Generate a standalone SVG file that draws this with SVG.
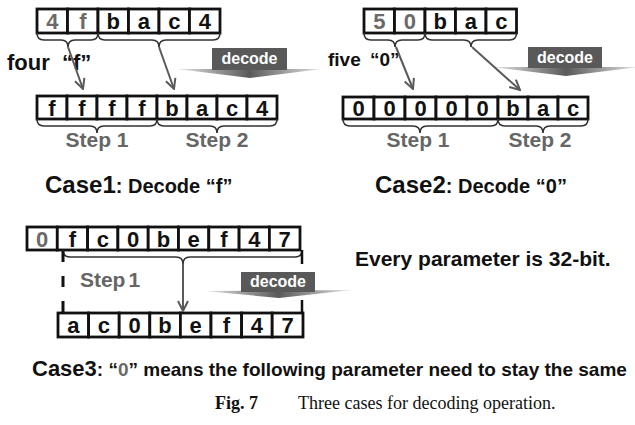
<svg xmlns="http://www.w3.org/2000/svg" width="635" height="425" viewBox="0 0 635 425">
<defs>
<style>
.cell{fill:#fff;stroke:#111;stroke-width:2.8}
.ct{font-family:"Liberation Sans",Arial,sans-serif;font-weight:bold;font-size:22px;text-anchor:middle;fill:#111}
.g{fill:#6a6a6a}
.brace{fill:none;stroke:#333;stroke-width:1.6}
.arr{fill:none;stroke:#5a5a5a;stroke-width:2;marker-end:url(#ah)}
.step{font-family:"Liberation Sans",Arial,sans-serif;font-weight:bold;font-size:21px;fill:#666;text-anchor:middle}
.lbl{font-family:"Liberation Sans",Arial,sans-serif;font-weight:bold;fill:#111}
.dec{font-family:"Liberation Sans",Arial,sans-serif;font-weight:bold;font-size:16px;fill:#fff;text-anchor:middle}
.blk{fill:#595959}
.head{fill:url(#hg)}
</style>
<marker id="ah" viewBox="0 0 12 12" refX="11" refY="6" markerWidth="12" markerHeight="12" markerUnits="userSpaceOnUse" orient="auto">
<path d="M1,1 L11,6 L1,11" fill="none" stroke="#5a5a5a" stroke-width="2"/>
</marker>
<linearGradient id="hg" x1="0" y1="0" x2="1" y2="0">
<stop offset="0" stop-color="#e6e6e6"/>
<stop offset="0.5" stop-color="#5a5a5a"/>
<stop offset="1" stop-color="#e6e6e6"/>
</linearGradient>
</defs>
<rect width="635" height="425" fill="#fff"/>

<!-- Case 1 -->
<g id="case1-top">
<rect class="cell" x="37" y="9" width="30.5" height="24"/>
<rect class="cell" x="67.5" y="9" width="30.5" height="24"/>
<rect class="cell" x="98" y="9" width="30.5" height="24"/>
<rect class="cell" x="128.5" y="9" width="30.5" height="24"/>
<rect class="cell" x="159" y="9" width="30.5" height="24"/>
<rect class="cell" x="189.5" y="9" width="30.5" height="24"/>
<text class="ct g" x="52.3" y="29">4</text>
<text class="ct g" x="82.8" y="29">f</text>
<text class="ct" x="113.3" y="29">b</text>
<text class="ct" x="143.8" y="29">a</text>
<text class="ct" x="174.3" y="29">c</text>
<text class="ct" x="204.8" y="29">4</text>
</g>
<g id="case1-bottom">
<rect class="cell" x="37" y="96" width="30" height="23"/>
<rect class="cell" x="67" y="96" width="30" height="23"/>
<rect class="cell" x="97" y="96" width="30" height="23"/>
<rect class="cell" x="127" y="96" width="30" height="23"/>
<rect class="cell" x="157" y="96" width="30" height="23"/>
<rect class="cell" x="187" y="96" width="30" height="23"/>
<rect class="cell" x="217" y="96" width="30" height="23"/>
<rect class="cell" x="247" y="96" width="30" height="23"/>
<text class="ct" x="52" y="115.5">f</text>
<text class="ct" x="82" y="115.5">f</text>
<text class="ct" x="112" y="115.5">f</text>
<text class="ct" x="142" y="115.5">f</text>
<text class="ct" x="172" y="115.5">b</text>
<text class="ct" x="202" y="115.5">a</text>
<text class="ct" x="232" y="115.5">c</text>
<text class="ct" x="262" y="115.5">4</text>
</g>
<g id="case1-labels">
<text class="lbl" x="7" y="70" font-size="22">four<tspan x="62">“f”</tspan></text>
<text class="step" x="97" y="147">Step 1</text>
<text class="step" x="217" y="147">Step 2</text>
<text class="lbl" x="45" y="193" font-size="24">Case1<tspan font-size="20">: Decode “f”</tspan></text>
</g>
<g id="case1-decode">
<polygon class="head" points="177,69 322,69 250,78"/>
<rect class="blk" x="212" y="48" width="75" height="22"/>
<text class="dec" x="249.5" y="64">decode</text>
</g>

<!-- Case 2 -->
<g id="case2-top">
<rect class="cell" x="364" y="9" width="30.5" height="24"/>
<rect class="cell" x="394.5" y="9" width="30.5" height="24"/>
<rect class="cell" x="425" y="9" width="30.5" height="24"/>
<rect class="cell" x="455.5" y="9" width="30.5" height="24"/>
<rect class="cell" x="486" y="9" width="30.5" height="24"/>
<text class="ct g" x="379.3" y="29">5</text>
<text class="ct g" x="409.8" y="29">0</text>
<text class="ct" x="440.3" y="29">b</text>
<text class="ct" x="470.8" y="29">a</text>
<text class="ct" x="501.3" y="29">c</text>
</g>
<g id="case2-bottom">
<rect class="cell" x="343" y="97" width="31" height="22"/>
<rect class="cell" x="374" y="97" width="31" height="22"/>
<rect class="cell" x="405" y="97" width="31" height="22"/>
<rect class="cell" x="436" y="97" width="31" height="22"/>
<rect class="cell" x="467" y="97" width="31" height="22"/>
<rect class="cell" x="498" y="97" width="30" height="22"/>
<rect class="cell" x="528" y="97" width="30" height="22"/>
<rect class="cell" x="558" y="97" width="30" height="22"/>
<text class="ct" x="358.5" y="116">0</text>
<text class="ct" x="389.5" y="116">0</text>
<text class="ct" x="420.5" y="116">0</text>
<text class="ct" x="451.5" y="116">0</text>
<text class="ct" x="482.5" y="116">0</text>
<text class="ct" x="513" y="116">b</text>
<text class="ct" x="543" y="116">a</text>
<text class="ct" x="573" y="116">c</text>
</g>
<g id="case2-labels">
<text class="lbl" x="328" y="66" font-size="19">five<tspan x="370">“0”</tspan></text>
<text class="step" x="418" y="147">Step 1</text>
<text class="step" x="540" y="147">Step 2</text>
<text class="lbl" x="375" y="193" font-size="24">Case2<tspan font-size="20">: Decode “0”</tspan></text>
</g>
<g id="case2-decode">
<polygon class="head" points="492,67 640,67 566,76"/>
<rect class="blk" x="528" y="47" width="74" height="21"/>
<text class="dec" x="565" y="63">decode</text>
</g>

<!-- Case 3 -->
<g id="case3-top">
<rect class="cell" x="27" y="227" width="30.3" height="23"/>
<rect class="cell" x="57.3" y="227" width="30.3" height="23"/>
<rect class="cell" x="87.6" y="227" width="30.3" height="23"/>
<rect class="cell" x="117.9" y="227" width="30.3" height="23"/>
<rect class="cell" x="148.2" y="227" width="30.3" height="23"/>
<rect class="cell" x="178.5" y="227" width="30.3" height="23"/>
<rect class="cell" x="208.8" y="227" width="30.3" height="23"/>
<rect class="cell" x="239.1" y="227" width="30.3" height="23"/>
<rect class="cell" x="269.4" y="227" width="30.6" height="23"/>
<text class="ct g" x="42.2" y="246.5">0</text>
<text class="ct" x="72.5" y="246.5">f</text>
<text class="ct" x="102.8" y="246.5">c</text>
<text class="ct" x="133.1" y="246.5">0</text>
<text class="ct" x="163.4" y="246.5">b</text>
<text class="ct" x="193.7" y="246.5">e</text>
<text class="ct" x="224" y="246.5">f</text>
<text class="ct" x="254.3" y="246.5">4</text>
<text class="ct" x="284.7" y="246.5">7</text>
</g>
<g id="case3-bottom">
<rect class="cell" x="58" y="313" width="30.6" height="24"/>
<rect class="cell" x="88.6" y="313" width="30.6" height="24"/>
<rect class="cell" x="119.2" y="313" width="30.6" height="24"/>
<rect class="cell" x="149.8" y="313" width="30.6" height="24"/>
<rect class="cell" x="180.4" y="313" width="30.6" height="24"/>
<rect class="cell" x="211" y="313" width="30.6" height="24"/>
<rect class="cell" x="241.6" y="313" width="30.6" height="24"/>
<rect class="cell" x="272.2" y="313" width="30.8" height="24"/>
<text class="ct" x="73.3" y="333">a</text>
<text class="ct" x="103.9" y="333">c</text>
<text class="ct" x="134.5" y="333">0</text>
<text class="ct" x="165.1" y="333">b</text>
<text class="ct" x="195.7" y="333">e</text>
<text class="ct" x="226.3" y="333">f</text>
<text class="ct" x="256.9" y="333">4</text>
<text class="ct" x="287.6" y="333">7</text>
</g>
<g id="case3-labels">
<text class="step" x="110" y="287" text-anchor="start">Step<tspan dx="3">1</tspan></text>
<text class="lbl" x="355" y="266" font-size="21">Every parameter is 32-bit.</text>
<text class="lbl" x="32" y="376" font-size="22">Case3<tspan font-size="19">: “<tspan fill="#6a6a6a">0</tspan>” means the following parameter need to stay the same</tspan></text>
</g>
<g id="case3-decode">
<polygon class="head" points="205,291 352,290 279,298"/>
<rect class="blk" x="241" y="272" width="74" height="20"/>
<text class="dec" x="278" y="287">decode</text>
</g>

<!-- Connectors -->
<g id="connectors">
<path class="brace" d="M37,33 Q37,40 44,40 L61,40 Q68,40 68,47 Q68,40 75,40 L91,40 Q98,40 98,33"/>
<path class="brace" d="M98,33 Q98,40 105,40 L152,40 Q159,40 159,47 Q159,40 166,40 L213,40 Q220,40 220,33"/>
<path class="brace" d="M37,119 Q37,126 44,126 L90,126 Q97,126 97,133 Q97,126 104,126 L150,126 Q157,126 157,119"/>
<path class="brace" d="M157,119 Q157,126 164,126 L210,126 Q217,126 217,133 Q217,126 224,126 L270,126 Q277,126 277,119"/>
<path class="brace" d="M364,33 Q364,40 371,40 L388,40 Q395,40 395,47 Q395,40 402,40 L418,40 Q425,40 425,33"/>
<path class="brace" d="M425,33 Q425,40 432,40 L464,40 Q471,40 471,47 Q471,40 478,40 L509.5,40 Q516.5,40 516.5,33"/>
<path class="brace" d="M343,119 Q343,126 350,126 L413,126 Q420,126 420,133 Q420,126 427,126 L491,126 Q498,126 498,119"/>
<path class="brace" d="M498,119 Q498,126 505,126 L536,126 Q543,126 543,133 Q543,126 550,126 L581,126 Q588,126 588,119"/>
<path class="brace" d="M63,250 Q63,257 70,257 L176,257 Q183,257 183,264 Q183,257 190,257 L295,257 Q302,257 302,250"/>
<line class="arr" x1="68" y1="47" x2="83" y2="89"/>
<line class="arr" x1="159" y1="47" x2="174" y2="89"/>
<line class="arr" x1="396" y1="47" x2="413" y2="89"/>
<line class="arr" x1="472" y1="47" x2="520" y2="90"/>
<line class="arr" x1="183" y1="264" x2="183" y2="311"/>
<line x1="63" y1="251" x2="63" y2="313" stroke="#111" stroke-width="3" stroke-dasharray="11 14"/>
<line x1="302" y1="250" x2="302" y2="264" stroke="#111" stroke-width="2.5"/>
<line x1="302" y1="300" x2="302" y2="313" stroke="#111" stroke-width="2.5"/>
</g>

<g id="caption">
<text x="215" y="409" font-family="'Liberation Serif','Times New Roman',serif" font-size="18" font-weight="bold" fill="#111">Fig. 7</text>
<text x="298" y="409" font-family="'Liberation Serif','Times New Roman',serif" font-size="18" fill="#111">Three cases for decoding operation.</text>
</g>
</svg>
